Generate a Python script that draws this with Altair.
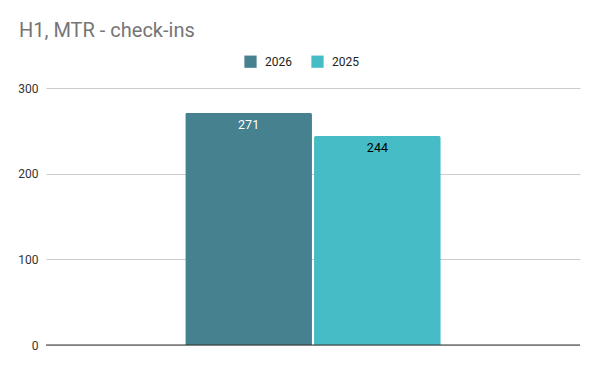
import altair as alt
import pandas as pd

years = ["2026", "2025"]
values = [271, 244]
colors = ["#45818e", "#46bdc6"]
y_ticks = [0, 100, 200, 300]

df = pd.DataFrame({"period": ["H1", "H1"], "year": years, "value": values})

x_enc = alt.X("period:N", axis=None,
              scale=alt.Scale(paddingInner=0, paddingOuter=0.545))
xo_enc = alt.XOffset("year:N", sort=years,
                     scale=alt.Scale(paddingInner=0.016, paddingOuter=0))
y_enc = alt.Y("value:Q", scale=alt.Scale(domain=[0, 300]),
              axis=alt.Axis(values=y_ticks, title=None, domain=False, ticks=False,
                            labelPadding=8, labelFont="Roboto", labelFontSize=12,
                            labelColor="#333333", gridColor="#cccccc"))

bars = alt.Chart(df).mark_bar(cornerRadiusTopLeft=2, cornerRadiusTopRight=2).encode(
    x=x_enc,
    xOffset=xo_enc,
    y=y_enc,
    color=alt.Color("year:N", sort=years,
                    scale=alt.Scale(domain=years, range=colors),
                    legend=alt.Legend(title=None, orient="none", direction="horizontal",
                                      legendX=198, legendY=-33, symbolType="square",
                                      symbolSize=150, symbolStrokeWidth=0,
                                      labelFont="Roboto", labelFontSize=12,
                                      labelColor="#222222", columnPadding=19,
                                      labelOffset=8, symbolOpacity=1)),
)

labels = alt.Chart(df).mark_text(baseline="top", dy=6.5, font="Roboto", fontSize=12.5).encode(
    x=x_enc,
    xOffset=xo_enc,
    y="value:Q",
    text="value:Q",
    color=alt.condition(alt.datum.year == "2026", alt.value("white"), alt.value("black")),
)

zero = alt.Chart(pd.DataFrame({"z": [0]})).mark_rule(color="#333333", strokeWidth=1).encode(
    y="z:Q"
)

chart = alt.layer(bars, labels, zero).properties(
    width=534,
    height=257,
    padding={"left": 38, "top": 80, "right": 12, "bottom": 18},
    autosize=alt.AutoSizeParams(type="none"),
    title=alt.TitleParams("H1, MTR - check-ins", anchor="start", frame="group",
                          font="Roboto", fontSize=20, fontWeight="normal",
                          color="#757575", dx=-27, offset=14),
).configure_view(stroke=None)

chart.save("out.html", embed_options={"renderer": "svg", "actions": False})
